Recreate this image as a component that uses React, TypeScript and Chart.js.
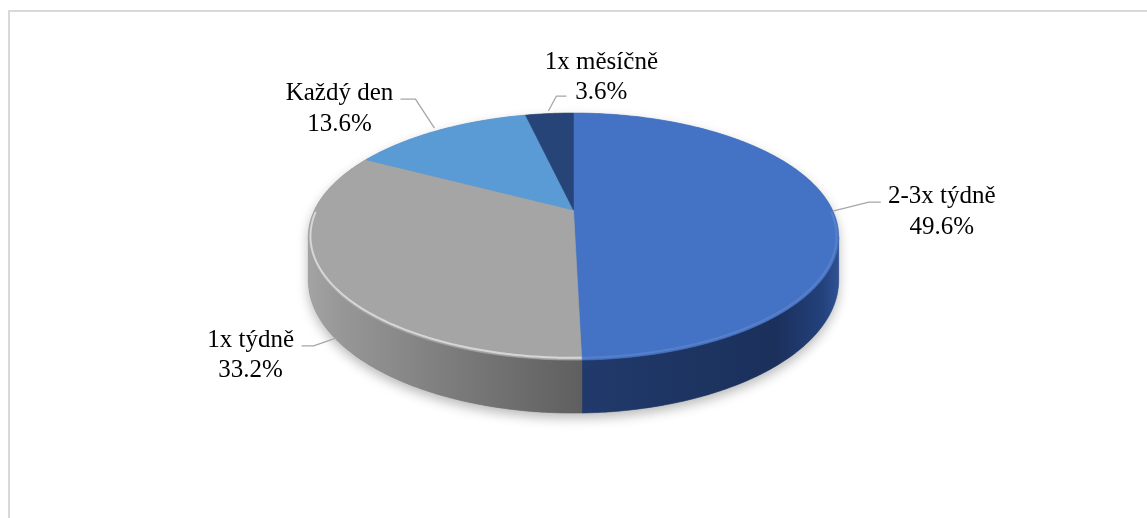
import React, { useEffect, useRef } from "react";
import { Chart, registerables } from "chart.js";

Chart.register(...registerables);

// ---- data ----
const categories = ["2-3x týdně", "1x týdně", "Každý den", "1x měsíčně"];
const values = [49.6, 33.2, 13.6, 3.6];

// ---- styles ----
const topColors = ["#4472C4", "#A5A5A5", "#5B9BD5", "#264478"];
const sideStops: [number, string][][] = [
  [[0, "#213a6b"], [0.75, "#1b305b"], [0.93, "#22407a"], [1, "#2f5293"]],
  [[0, "#a3a3a3"], [0.12, "#979797"], [0.6, "#777777"], [1, "#5f5f5f"]],
  [[0, "#4a82b8"], [1, "#3d6d9e"]],
  [[0, "#1d3461"], [1, "#1a2d55"]],
];
const rimHighlight = [0.1, 0.55, 0.2, 0.1];

// projection parameters (tilt / perspective / depth), relative to the pie radius
const TILT = 0.455;
const PERSPECTIVE = 0.2146;
const DEPTH = 0.1606;
const CENTER_SHIFT = -0.189;

// label layout, offsets from the slice's rim anchor point
const labelLayout = [
  { start: [1, 2.5], elbow: [37, -6.5], end: [49, -6.5], text: [110, -5.5] },
  { start: [11.5, 58], elbow: [-11.5, 66], end: [-23.5, 66], text: [-74.5, 67] },
  { start: [-4.5, -2], elbow: [-23.5, -31], end: [-38.5, -31], text: [-99.5, -30] },
  { start: [-1, -2.5], elbow: [7, -17.5], end: [17, -17.5], text: [52, -45] },
];
const LABEL_FONT = "25px 'Liberation Serif', 'Times New Roman', serif";
const LINE_GAP = 30.5;

const pie3d = {
  id: "pie3d",
  afterDatasetsDraw(chart: any) {
    const ctx: CanvasRenderingContext2D = chart.ctx;
    const meta = chart.getDatasetMeta(0);
    const arcs = meta.data as any[];
    if (!arcs.length) return;
    const R = arcs[0].outerRadius;
    const cx = arcs[0].x;
    const cy = arcs[0].y + CENTER_SHIFT * R;
    const A = R * TILT;
    const d = R * DEPTH;
    const k = PERSPECTIVE;

    const proj = (t: number, h: number): [number, number] => {
      const u = Math.cos(t);
      const v = Math.sin(t);
      const s = 1 / (1 - k * v);
      return [cx + R * u * s, cy + A * v * s + h * d * s];
    };
    const trace = (a: number, b: number, h: number, first: boolean) => {
      const n = Math.max(2, Math.ceil(Math.abs(b - a) / 0.01));
      for (let i = 0; i <= n; i++) {
        const t = a + ((b - a) * i) / n;
        const [x, y] = proj(t, h);
        if (first && i === 0) ctx.moveTo(x, y);
        else ctx.lineTo(x, y);
      }
    };
    const s1 = Math.asin(k);
    const s2 = Math.PI - s1;

    ctx.save();
    // shadow silhouette
    ctx.save();
    ctx.beginPath();
    trace(s2, s1 + 2 * Math.PI, 0, true);
    trace(s1, s2, 1, false);
    ctx.closePath();
    ctx.shadowColor = "rgba(0,0,0,0.28)";
    ctx.shadowBlur = 12;
    ctx.shadowOffsetY = 5;
    ctx.fillStyle = "#7f7f7f";
    ctx.fill();
    ctx.restore();

    // side walls
    arcs.forEach((arc, i) => {
      for (const off of [0, -2 * Math.PI, 2 * Math.PI]) {
        const a = Math.max(arc.startAngle + off, s1);
        const b = Math.min(arc.endAngle + off, s2);
        if (b <= a) continue;
        const xa = proj(a, 0)[0];
        const xb = proj(b, 0)[0];
        let xmin = Math.min(xa, xb);
        let xmax = Math.max(xa, xb);
        if (a <= s1 + 1e-6) xmax = proj(s1, 0)[0];
        if (b >= s2 - 1e-6) xmin = proj(s2, 0)[0];
        const g = ctx.createLinearGradient(xmin, 0, xmax, 0);
        sideStops[i].forEach(([p, c]) => g.addColorStop(p, c));
        ctx.beginPath();
        trace(a, b, 0, true);
        trace(b, a, 1, false);
        ctx.closePath();
        ctx.fillStyle = g;
        ctx.fill();
        ctx.strokeStyle = g;
        ctx.lineWidth = 0.6;
        ctx.stroke();
      }
    });

    // top faces
    arcs.forEach((arc, i) => {
      ctx.beginPath();
      ctx.moveTo(cx, cy);
      trace(arc.startAngle, arc.endAngle, 0, false);
      ctx.closePath();
      ctx.fillStyle = topColors[i];
      ctx.fill();
      ctx.strokeStyle = topColors[i];
      ctx.lineWidth = 0.6;
      ctx.stroke();
    });

    // rim highlight
    arcs.forEach((arc, i) => {
      for (const off of [0, -2 * Math.PI, 2 * Math.PI]) {
        const a = Math.max(arc.startAngle + off, s1 - 0.2);
        const b = Math.min(arc.endAngle + off, s2 + 0.2);
        if (b <= a) continue;
        ctx.beginPath();
        const n = Math.ceil((b - a) / 0.01);
        for (let j = 0; j <= n; j++) {
          const t = a + ((b - a) * j) / n;
          const [x, y] = proj(t, 0);
          const px = cx + (x - cx) * 0.992;
          const py = cy + (y - cy) * 0.985;
          if (j === 0) ctx.moveTo(px, py);
          else ctx.lineTo(px, py);
        }
        ctx.strokeStyle = `rgba(255,255,255,${rimHighlight[i]})`;
        ctx.lineWidth = 2;
        ctx.stroke();
      }
    });

    // labels with leader lines
    ctx.font = LABEL_FONT;
    ctx.textAlign = "center";
    ctx.textBaseline = "alphabetic";
    arcs.forEach((arc, i) => {
      const mid = (arc.startAngle + arc.endAngle) / 2;
      const [ax, ay] = proj(mid, 0);
      const L = labelLayout[i];
      ctx.beginPath();
      ctx.moveTo(ax + L.start[0], ay + L.start[1]);
      ctx.lineTo(ax + L.elbow[0], ay + L.elbow[1]);
      ctx.lineTo(ax + L.end[0], ay + L.end[1]);
      ctx.strokeStyle = "#a6a6a6";
      ctx.lineWidth = 1.3;
      ctx.stroke();
      ctx.fillStyle = "#000000";
      const tx = ax + L.text[0];
      const ty = ay + L.text[1];
      ctx.fillText(categories[i], tx, ty);
      ctx.fillText(values[i].toFixed(1) + "%", tx, ty + LINE_GAP);
    });
    ctx.restore();
  },
};

export default function App() {
  const ref = useRef<HTMLCanvasElement | null>(null);
  useEffect(() => {
    if (!ref.current) return;
    const chart = new Chart(ref.current, {
      type: "pie",
      data: {
        labels: categories,
        datasets: [
          {
            data: values,
            backgroundColor: "rgba(0,0,0,0)",
            borderWidth: 0,
          },
        ],
      },
      options: {
        responsive: false,
        animation: false,
        events: [],
        layout: { padding: 0 },
        plugins: {
          legend: { display: false },
          tooltip: { enabled: false },
        },
      },
      plugins: [pie3d],
    });
    return () => chart.destroy();
  }, []);

  return (
    <>
      <div
        style={{
          position: "fixed",
          left: 8,
          top: 10,
          width: 1139,
          height: 508,
          boxSizing: "border-box",
          borderLeft: "2px solid #d9d9d9",
          borderTop: "2px solid #d9d9d9",
          background: "#ffffff",
        }}
      />
      <canvas
        ref={ref}
        width={1147}
        height={518}
        style={{ position: "fixed", left: 0, top: 0, display: "block" }}
      />
    </>
  );
}
